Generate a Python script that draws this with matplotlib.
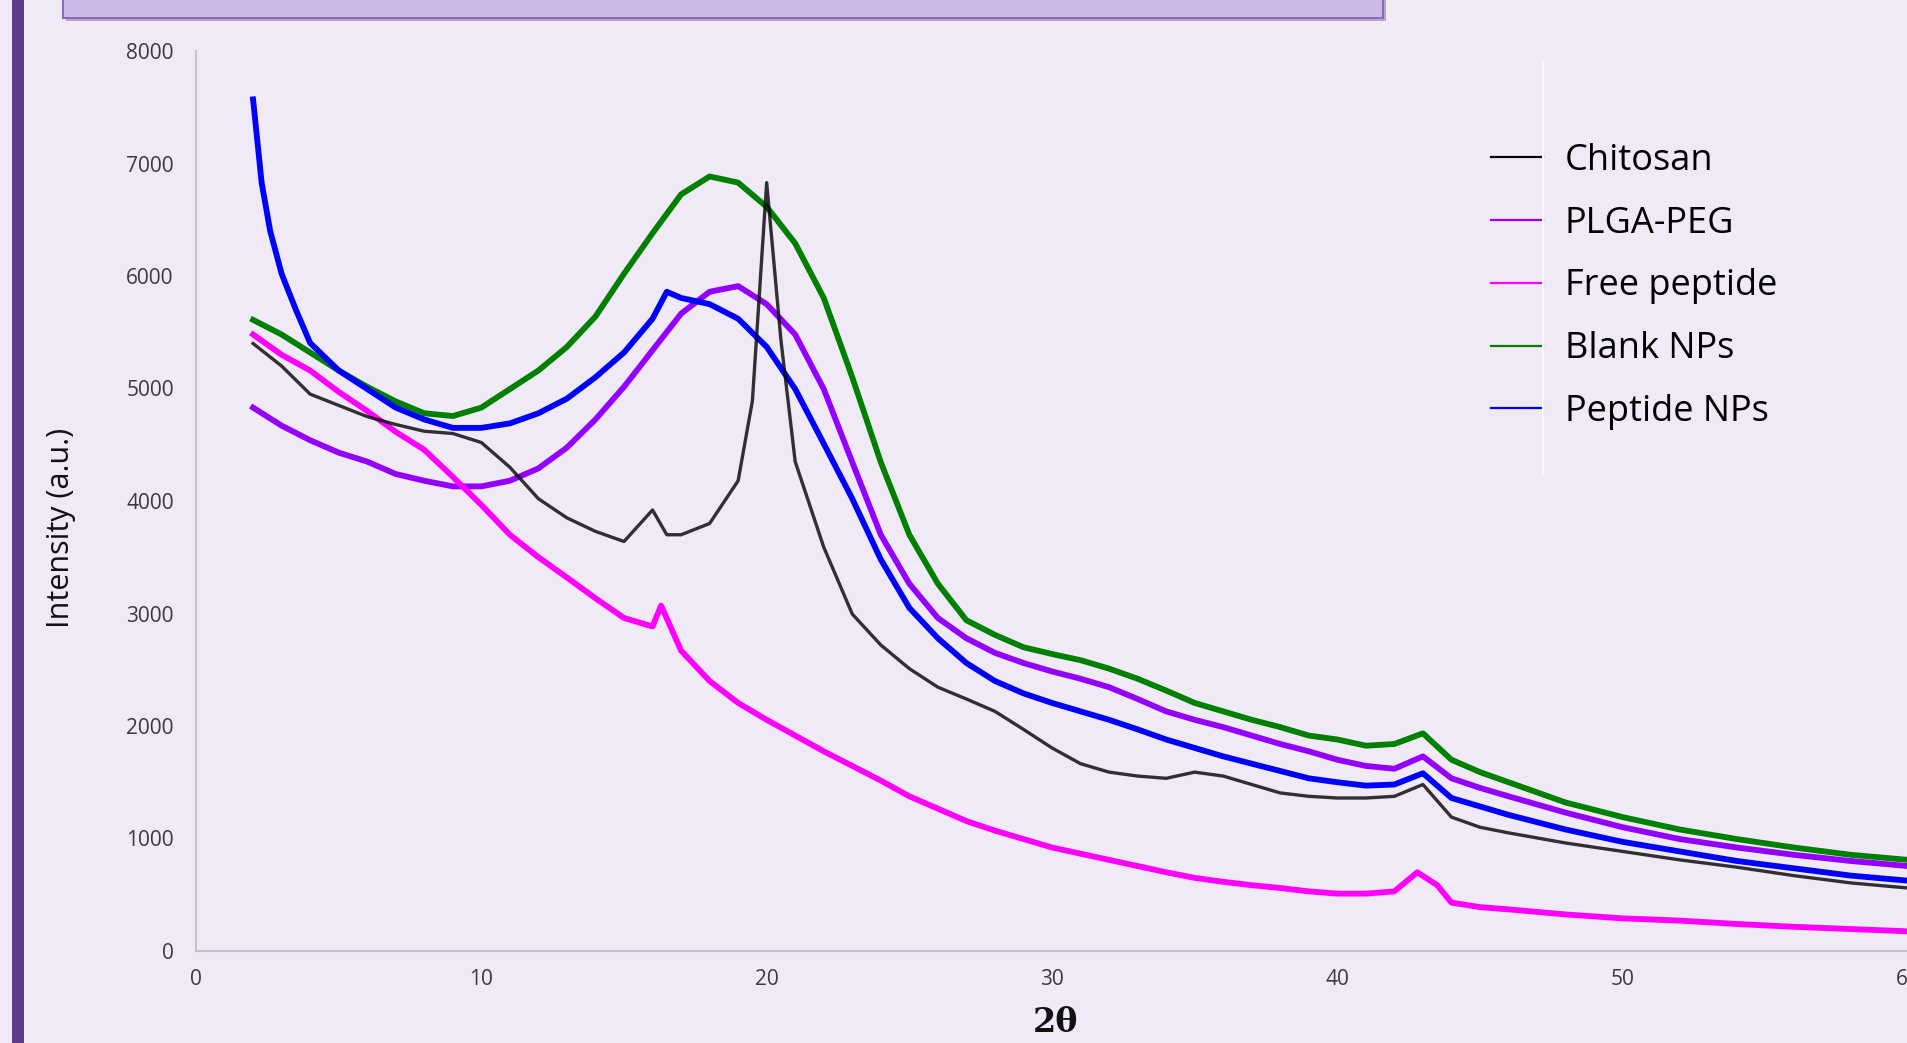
import matplotlib
matplotlib.use("Agg")
import matplotlib.pyplot as plt
from matplotlib.patches import Rectangle
from matplotlib.lines import Line2D

# ---------------------------------------------------------------- data
series_names = ["Chitosan", "PLGA-PEG", "Free peptide", "Blank NPs", "Peptide NPs"]
series_colors = ["#000000", "#9400FF", "#FF00FF", "#008000", "#0000FF"]

chitosan_x = [2, 3, 4, 5, 6, 7, 8, 9, 10, 11, 12, 13, 14, 15, 16, 16.5, 17, 18, 19, 19.5, 20,
              20.5, 21, 22, 23, 24, 25, 26, 27, 28, 29, 30, 31, 32, 33, 34, 35, 36, 37, 38, 39,
              40, 41, 42, 43, 44, 45, 46, 48, 50, 52, 54, 56, 58, 60]
chitosan_y = [5400, 5200, 4950, 4850, 4750, 4680, 4620, 4600, 4520, 4300, 4020, 3850, 3730, 3640,
              3920, 3700, 3700, 3800, 4180, 4890, 6830, 5430, 4350, 3590, 2995, 2720, 2510, 2345,
              2240, 2130, 1970, 1805, 1665, 1590, 1555, 1535, 1590, 1555, 1480, 1405, 1375, 1360,
              1360, 1375, 1480, 1190, 1100, 1050, 960, 885, 810, 745, 670, 605, 560]

plga_x = [2, 3, 4, 5, 6, 7, 8, 9, 10, 11, 12, 13, 14, 15, 16, 17, 18, 19, 20, 21, 22, 23, 24, 25,
          26, 27, 28, 29, 30, 31, 32, 33, 34, 35, 36, 37, 38, 39, 40, 41, 42, 43, 44, 45, 46, 48,
          50, 52, 54, 56, 58, 60]
plga_y = [4830, 4670, 4540, 4430, 4350, 4240, 4180, 4130, 4130, 4180, 4290, 4475, 4725, 5015,
          5340, 5665, 5860, 5910, 5750, 5480, 4995, 4345, 3700, 3265, 2960, 2780, 2650, 2560,
          2485, 2420, 2345, 2240, 2130, 2055, 1990, 1915, 1840, 1775, 1700, 1645, 1620, 1730,
          1535, 1450, 1375, 1230, 1100, 995, 920, 855, 800, 755]

free_x = [2, 3, 4, 5, 6, 7, 8, 9, 10, 11, 12, 13, 14, 15, 16, 16.3, 17, 18, 19, 20, 21, 22, 23,
          24, 25, 26, 27, 28, 29, 30, 31, 32, 33, 34, 35, 36, 37, 38, 39, 40, 41, 42, 42.8, 43.5,
          44, 45, 46, 48, 50, 52, 54, 56, 58, 60]
free_y = [5480, 5300, 5160, 4970, 4800, 4615, 4455, 4215, 3965, 3700, 3500, 3320, 3135, 2960,
          2885, 3070, 2670, 2400, 2205, 2055, 1915, 1775, 1645, 1515, 1375, 1265, 1155, 1070,
          995, 920, 865, 810, 755, 700, 650, 615, 585, 560, 530, 510, 510, 530, 700, 585, 430,
          390, 370, 325, 290, 270, 240, 215, 195, 175]

blank_x = [2, 3, 4, 5, 6, 7, 8, 9, 10, 11, 12, 13, 14, 15, 16, 17, 18, 19, 20, 21, 22, 23, 24,
           25, 26, 27, 28, 29, 30, 31, 32, 33, 34, 35, 36, 37, 38, 39, 40, 41, 42, 43, 44, 45,
           46, 48, 50, 52, 54, 56, 58, 60]
blank_y = [5610, 5480, 5320, 5160, 5015, 4885, 4780, 4755, 4830, 4995, 5160, 5370, 5640, 6020,
           6380, 6725, 6885, 6830, 6615, 6290, 5805, 5100, 4345, 3700, 3265, 2940, 2810, 2700,
           2640, 2585, 2510, 2420, 2315, 2205, 2130, 2055, 1990, 1915, 1880, 1825, 1840, 1935,
           1700, 1590, 1500, 1320, 1190, 1080, 995, 920, 855, 810]

pep_x = [2, 2.3, 2.6, 3, 3.5, 4, 5, 6, 7, 8, 9, 10, 11, 12, 13, 14, 15, 16, 16.5, 17, 18, 19,
         20, 21, 22, 23, 24, 25, 26, 27, 28, 29, 30, 31, 32, 33, 34, 35, 36, 37, 38, 39, 40, 41,
         42, 43, 44, 45, 46, 48, 50, 52, 54, 56, 58, 60]
pep_y = [7570, 6830, 6400, 6020, 5700, 5405, 5160, 4995, 4830, 4725, 4650, 4650, 4690, 4780,
         4910, 5100, 5320, 5620, 5860, 5805, 5750, 5620, 5370, 4995, 4510, 4020, 3480, 3050,
         2780, 2560, 2400, 2290, 2205, 2130, 2055, 1970, 1880, 1805, 1730, 1665, 1600, 1535,
         1500, 1470, 1480, 1580, 1360, 1285, 1210, 1080, 970, 885, 800, 735, 670, 625]

x_ticks = [0, 10, 20, 30, 40, 50, 60]
y_ticks = [0, 1000, 2000, 3000, 4000, 5000, 6000, 7000, 8000]

# ---------------------------------------------------------------- figure
bg = "#F0EAF7"
fig = plt.figure(figsize=(19.08, 10.43), dpi=100, facecolor=bg)

# slide decorations: left bar and the title box at the top
fig.add_artist(Rectangle((12 / 1908, 0), 12 / 1908, 1, transform=fig.transFigure,
                         facecolor="#5E3A8A", edgecolor="none"))
fig.add_artist(Rectangle((66 / 1908, 1 - 21 / 1043), 1320 / 1908, 30 / 1043,
                         transform=fig.transFigure, facecolor="#B8A4D4", edgecolor="none"))
fig.add_artist(Rectangle((63 / 1908, 1 - 18 / 1043), 1320 / 1908, 30 / 1043,
                         transform=fig.transFigure, facecolor="#CDB9E6", edgecolor="#8A6BB8",
                         linewidth=1.5))

ax = fig.add_axes([196 / 1908, 92 / 1043, 1712 / 1908, 900 / 1043])
ax.set_facecolor(bg)

data = [(chitosan_x, chitosan_y), (plga_x, plga_y), (free_x, free_y),
        (blank_x, blank_y), (pep_x, pep_y)]
for (xs, ys), name, col in zip(data, series_names, series_colors):
    if name == "Chitosan":
        ax.plot(xs, ys, color=col, lw=2.4, alpha=0.8, label=name, zorder=6)
    else:
        ax.plot(xs, ys, color=col, lw=4.2, label=name, zorder=3)

ax.set_xlim(0, 60)
ax.set_ylim(0, 8000)
ax.set_xticks(x_ticks)
ax.set_yticks(y_ticks)
ax.tick_params(length=0, labelsize=15, labelcolor="#3A3A3A")
ax.tick_params(axis="y", pad=16)
ax.tick_params(axis="x", pad=13)
for lab in ax.get_xticklabels() + ax.get_yticklabels():
    lab.set_family("Open Sans")

for side in ["top", "right"]:
    ax.spines[side].set_visible(False)
for side in ["left", "bottom"]:
    ax.spines[side].set_color("#C4C4C4")
    ax.spines[side].set_linewidth(1.5)

ax.set_ylabel("Intensity (a.u.)", fontsize=22, family="Open Sans", color="#111111")
ax.yaxis.set_label_coords(-0.070, 0.47)
ax.set_xlabel("2θ", fontsize=24, family="DejaVu Serif", fontweight="bold", color="#111111",
              va="center")
ax.xaxis.set_label_coords(0.502, -0.079)

# faint boundary of the plot area next to the legend
fig.add_artist(Line2D([1543 / 1908, 1543 / 1908], [1 - 61 / 1043, 1 - 475 / 1043],
                      transform=fig.transFigure, color="#FAF7FD", lw=1.5))

leg = ax.legend(loc="upper left", bbox_to_anchor=(1491 / 1908, 1 - 143 / 1043),
                bbox_transform=fig.transFigure, frameon=False, borderpad=0,
                borderaxespad=0, handlelength=1.44, handletextpad=0.6, labelspacing=0.74,
                prop={"family": "Open Sans", "size": 26})
for line in leg.get_lines():
    line.set_linewidth(1.6)
    line.set_alpha(1)

fig.savefig("out.png", dpi=100, facecolor=bg)
